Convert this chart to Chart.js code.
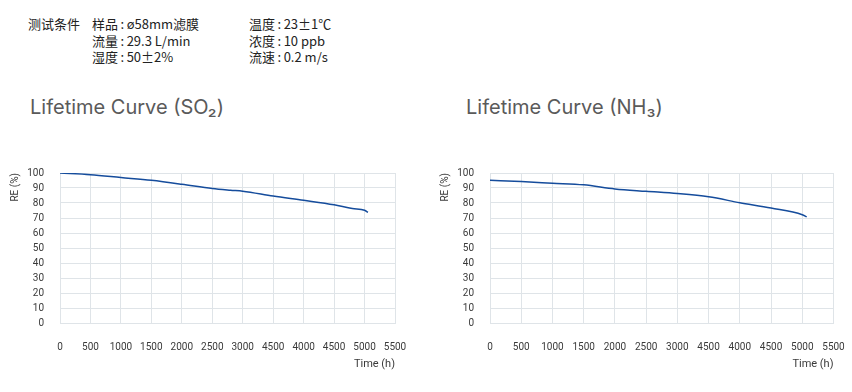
<!DOCTYPE html>
<html>
<head>
<meta charset="utf-8">
<script src="https://cdn.jsdelivr.net/npm/chart.js@4/dist/chart.umd.min.js"></script>
<style>
  body { margin: 0; background: #fff; width: 852px; height: 392px; position: relative; overflow: hidden; }
  .cond { position: absolute; top: 16px; font-family: "Noto Sans CJK SC", "Noto Sans", sans-serif; font-size: 13px; line-height: 16.5px; color: #222; white-space: nowrap; }
  .cond .c { margin: 0 2.5px; }
  .title { position: absolute; top: 94px; font-family: Inter, "Open Sans", sans-serif; font-size: 20px; line-height: 26px; color: #5a5a5a; white-space: nowrap; }
  canvas { position: absolute; top: 160px; }
</style>
</head>
<body>
<div class="cond" style="left:28px">测试条件</div>
<div class="cond" style="left:92px">样品<span class="c">:</span>ø58mm滤膜<br>流量<span class="c">:</span>29.3 L/min<br>湿度<span class="c">:</span>50±2%</div>
<div class="cond" style="left:249px">温度<span class="c">:</span>23±1℃<br>浓度<span class="c">:</span>10 ppb<br>流速<span class="c">:</span>0.2 m/s</div>

<div class="title" style="left:30px">Lifetime Curve (SO₂)</div>
<div class="title" style="left:466px">Lifetime Curve (NH₃)</div>

<canvas id="chartSO2" width="410" height="220" style="left:0px"></canvas>
<canvas id="chartNH3" width="420" height="220" style="left:430px"></canvas>

<script>
// x tick labels as printed on the original (4500 appears twice there)
const xTickLabels = ['0', '500', '1000', '1500', '2000', '2500', '3000', '4500', '4000', '4500', '5000', '5500'];

// SO2 curve
const so2Hours = [0, 500, 1000, 1500, 2000, 2500, 2800, 3000, 3500, 4000, 4500, 4800, 5000, 5056];
const so2RE = [100, 98.9, 97.0, 95.1, 92.5, 89.6, 88.5, 87.9, 84.6, 81.8, 78.8, 76.3, 75.2, 73.7];

// NH3 curve
const nh3Hours = [0, 500, 1000, 1500, 2000, 2500, 3000, 3500, 4000, 4500, 5000, 5071];
const nh3RE = [95.1, 94.3, 93.2, 92.1, 89.4, 87.8, 86.3, 84.1, 80.2, 76.6, 72.2, 70.8];

const gridColor = '#dfe4e8';
const lineColor = '#154c9c';

Chart.defaults.font.family = 'Roboto';
Chart.defaults.color = '#3a3a3a';

function toPoints(xs, ys) {
    return xs.map((x, i) => ({ x: x, y: ys[i] }));
}

function makeChart(id, xs, ys, padRight) {
    const ctx = document.getElementById(id).getContext('2d');
    return new Chart(ctx, {
        type: 'line',
        data: {
            datasets: [{
                data: toPoints(xs, ys),
                borderColor: lineColor,
                borderWidth: 1.5,
                pointRadius: 0,
                tension: 0.3,
                cubicInterpolationMode: 'monotone',
                fill: false
            }]
        },
        options: {
            responsive: false,
            animation: false,
            layout: { padding: { top: 13, right: padRight, bottom: 0, left: 0 } },
            plugins: {
                legend: { display: false },
                tooltip: { enabled: false }
            },
            scales: {
                x: {
                    type: 'linear',
                    min: 0,
                    max: 5500,
                    afterFit: (scale) => {
                        scale.height = 57;
                        scale.paddingLeft = 0;
                        scale.paddingRight = 0;
                    },
                    afterBuildTicks: (scale) => {
                        scale.ticks = xTickLabels.map((t, i) => ({ value: i * 500 }));
                    },
                    ticks: {
                        padding: 18,
                        maxRotation: 0,
                        autoSkip: false,
                        font: { size: 10 },
                        callback: (value, index) => xTickLabels[index]
                    },
                    grid: { color: gridColor, drawTicks: false },
                    border: { color: gridColor },
                    title: {
                        display: true,
                        text: 'Time (h)',
                        align: 'end',
                        font: { size: 11 },
                        padding: { top: 0, bottom: 9 }
                    }
                },
                y: {
                    min: 0,
                    max: 100,
                    afterFit: (scale) => {
                        scale.width = 60;
                        scale.paddingTop = 0;
                        scale.paddingBottom = 0;
                    },
                    ticks: { stepSize: 10, padding: 16, autoSkip: false, font: { size: 10 } },
                    grid: { color: gridColor, drawTicks: false },
                    border: { color: gridColor },
                    title: {
                        display: true,
                        text: 'RE (%)',
                        align: 'end',
                        font: { size: 10 },
                        padding: { top: 9, bottom: 0 }
                    }
                }
            }
        }
    });
}

makeChart('chartSO2', so2Hours, so2RE, 15);
makeChart('chartNH3', nh3Hours, nh3RE, 16.5);
</script>
</body>
</html>
